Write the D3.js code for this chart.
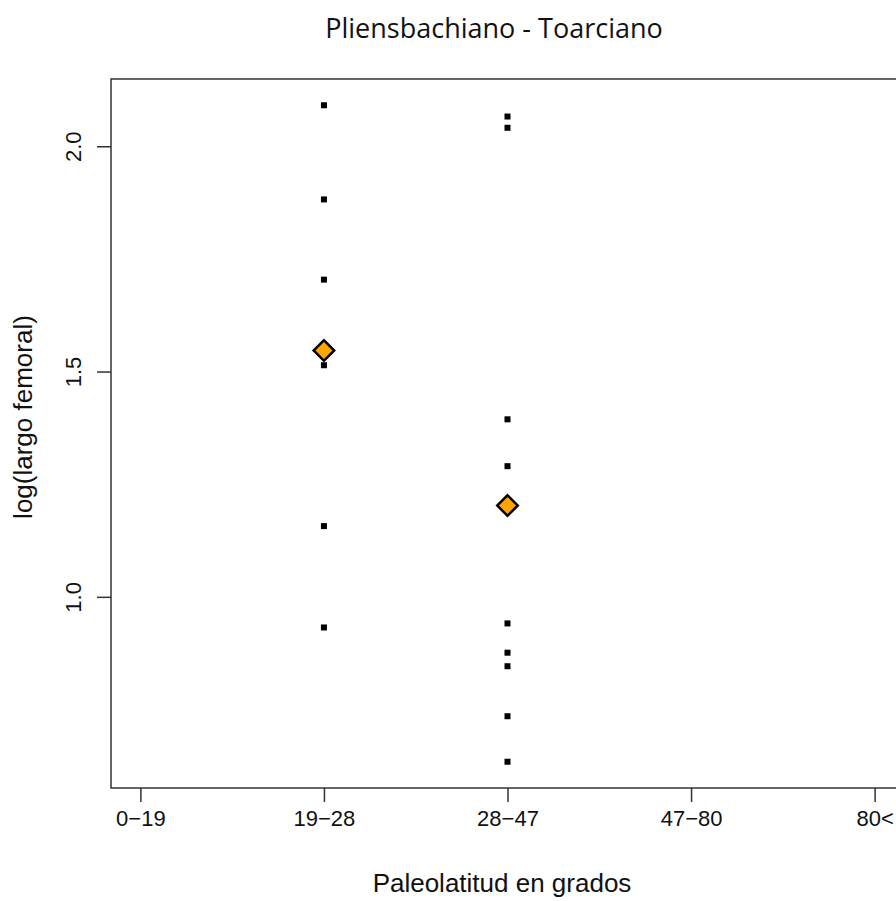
<!DOCTYPE html>
<html>
<head>
<meta charset="utf-8">
<script src="https://cdn.jsdelivr.net/npm/d3@7"></script>
<style>
  body { margin: 0; background: #fff; }
  svg { display: block; }
</style>
</head>
<body>
<svg id="drawing_region"></svg>
<script>
// categories on the x axis
const categories = ["0\u221219", "19\u221228", "28\u221247", "47\u221280", "80<"];

// log(largo femoral) per group
const values_19_28 = [2.091, 1.882, 1.704, 1.514, 1.157, 0.932];
const values_28_47 = [2.066, 2.041, 1.394, 1.290, 0.941, 0.876, 0.846, 0.735, 0.634];

const yticks = [1.0, 1.5, 2.0];

const points = [];
values_19_28.forEach(v => points.push({ cat: 2, y: v }));
values_28_47.forEach(v => points.push({ cat: 3, y: v }));

const means = [
    { cat: 2, y: d3.mean(values_19_28) },
    { cat: 3, y: d3.mean(values_28_47) }
];

const width = 896, height = 901;
const margin = { top: 79, right: -8, bottom: 113, left: 111 };

const svg = d3.select('#drawing_region')
    .attr('width', width)
    .attr('height', height);

const inner_width = width - margin.left - margin.right;
const inner_height = height - margin.top - margin.bottom;

const chart = svg.append('g')
    .attr('transform', `translate(${margin.left}, ${margin.top})`);

// R style 4% padding on both axes
const xscale = d3.scaleLinear()
    .domain([1 - 0.16, 5 + 0.16])
    .range([0, inner_width]);

const ymin = d3.min(points, d => d.y), ymax = d3.max(points, d => d.y);
const ypad = (ymax - ymin) * 0.04;
const yscale = d3.scaleLinear()
    .domain([ymin - ypad, ymax + ypad])
    .range([inner_height, 0]);

const axisColor = '#333';

// x axis
const xaxis = d3.axisBottom(xscale)
    .tickValues([1, 2, 3, 4, 5])
    .tickFormat(d => categories[d - 1])
    .tickSize(14)
    .tickPadding(8);

const xg = chart.append('g')
    .attr('transform', `translate(0, ${inner_height})`)
    .call(xaxis);
xg.select('.domain').remove();
xg.selectAll('line').attr('stroke', axisColor).attr('stroke-width', 1.5);
xg.selectAll('text')
    .attr('font-family', 'Liberation Sans, Arial, sans-serif')
    .attr('font-size', 22)
    .attr('fill', '#111');

// y axis
const yaxis = d3.axisLeft(yscale)
    .tickValues(yticks)
    .tickFormat(d3.format('.1f'))
    .tickSize(14);

const yg = chart.append('g').call(yaxis);
yg.select('.domain').remove();
yg.selectAll('line').attr('stroke', axisColor).attr('stroke-width', 1.5);
yg.selectAll('text')
    .attr('font-family', 'Liberation Sans, Arial, sans-serif')
    .attr('font-size', 22)
    .attr('fill', '#111')
    .attr('text-anchor', 'middle')
    .attr('x', 0)
    .attr('dy', 0)
    .attr('transform', 'translate(-30, 0) rotate(-90)');

// box
chart.append('rect')
    .attr('x', 0)
    .attr('y', 0)
    .attr('width', inner_width)
    .attr('height', inner_height)
    .attr('fill', 'none')
    .attr('stroke', axisColor)
    .attr('stroke-width', 1.5);

// raw points
const sq = 6;
chart.selectAll('rect.pt')
    .data(points)
    .enter()
    .append('rect')
    .attr('class', 'pt')
    .attr('x', d => xscale(d.cat) - sq / 2)
    .attr('y', d => yscale(d.y) - sq / 2)
    .attr('width', sq)
    .attr('height', sq)
    .attr('fill', '#000');

// means
const diamond = d3.symbol().type(d3.symbolSquare).size(210);
chart.selectAll('path.mean')
    .data(means)
    .enter()
    .append('path')
    .attr('class', 'mean')
    .attr('d', diamond)
    .attr('transform', d => `translate(${xscale(d.cat)}, ${yscale(d.y)}) rotate(45)`)
    .attr('fill', '#FFA500')
    .attr('stroke', '#000')
    .attr('stroke-width', 2.5);

// titles
svg.append('text')
    .attr('x', 494)
    .attr('y', 38)
    .attr('text-anchor', 'middle')
    .attr('font-family', 'Open Sans, sans-serif')
    .attr('font-size', 27)
    .attr('fill', '#111')
    .text('Pliensbachiano - Toarciano');

svg.append('text')
    .attr('x', 502)
    .attr('y', 892)
    .attr('text-anchor', 'middle')
    .attr('font-family', 'Liberation Sans, Arial, sans-serif')
    .attr('font-size', 26)
    .attr('fill', '#111')
    .text('Paleolatitud en grados');

svg.append('text')
    .attr('transform', 'translate(32, 417) rotate(-90)')
    .attr('text-anchor', 'middle')
    .attr('font-family', 'Liberation Sans, Arial, sans-serif')
    .attr('font-size', 26)
    .attr('fill', '#111')
    .text('log(largo femoral)');
</script>
</body>
</html>
